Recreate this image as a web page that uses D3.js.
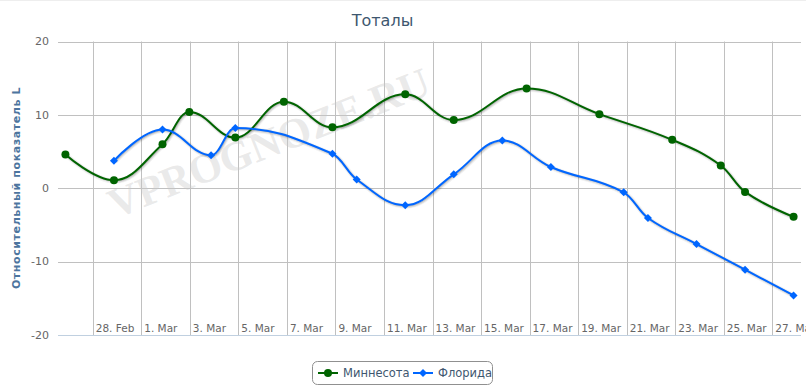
<!DOCTYPE html>
<html>
<head>
<meta charset="utf-8">
<script src="https://cdn.jsdelivr.net/npm/d3@7"></script>
<style>
    body { margin: 0; background: #fff; }
    #chart { width: 806px; height: 387px; overflow: hidden; }
    text { font-family: "DejaVu Sans", Verdana, Arial, sans-serif; }
</style>
</head>
<body>
<div id="chart"></div>
<script>
// Data (year 2012, times as plotted)
var minnesotaDates = [
    "2012-02-26 21:00", "2012-02-28 21:00", "2012-03-01 21:00", "2012-03-02 23:30",
    "2012-03-04 21:00", "2012-03-06 21:00", "2012-03-08 21:00", "2012-03-11 21:00",
    "2012-03-13 21:00", "2012-03-16 21:00", "2012-03-19 21:00", "2012-03-22 21:00",
    "2012-03-24 21:00", "2012-03-25 21:00", "2012-03-27 21:00"
];
var minnesotaValues = [4.6, 1.1, 6.0, 10.4, 6.9, 11.8, 8.3, 12.8, 9.3, 13.6, 10.1, 6.6, 3.1, -0.5, -3.9];

var floridaDates = [
    "2012-02-28 21:00", "2012-03-01 21:00", "2012-03-03 21:00", "2012-03-04 21:00",
    "2012-03-08 21:00", "2012-03-09 21:00", "2012-03-11 21:00", "2012-03-13 21:00",
    "2012-03-15 21:00", "2012-03-17 21:00", "2012-03-20 21:00", "2012-03-21 21:00",
    "2012-03-23 21:00", "2012-03-25 21:00", "2012-03-27 21:00"
];
var floridaValues = [3.75, 8.0, 4.5, 8.2, 4.7, 1.2, -2.3, 1.9, 6.5, 2.9, -0.55, -4.05, -7.6, -11.1, -14.6];

var yTicks = [-20, -10, 0, 10, 20];
var xDomain = ["2012-02-26 13:40", "2012-03-28 04:20"];
var xTickStart = "2012-02-28 00:00";
var xTickEnd = "2012-03-28 00:00";

var seriesNames = ["Миннесота", "Флорида"];
var seriesColors = ["#006400", "#0066FF"];

var parseTime = d3.timeParse("%Y-%m-%d %H:%M");
var formatTick = d3.timeFormat("%-d. %b");

// Highcharts-like spline (smoothing 1.5, no false extremes)
function SplineCurve(context) { this._context = context; }
SplineCurve.prototype = {
    areaStart: function () { this._line = 0; },
    areaEnd: function () { this._line = NaN; },
    lineStart: function () { this._pts = []; },
    point: function (x, y) { this._pts.push([+x, +y]); },
    lineEnd: function () {
        var p = this._pts, ctx = this._context, s = 1.5, den = s + 1;
        var cl = [], cr = [];
        for (var i = 0; i < p.length; i++) {
            if (i > 0 && i < p.length - 1) {
                var x = p[i][0], y = p[i][1];
                var lx = p[i - 1][0], ly = p[i - 1][1];
                var nx = p[i + 1][0], ny = p[i + 1][1];
                var lcx = (s * x + lx) / den, lcy = (s * y + ly) / den;
                var rcx = (s * x + nx) / den, rcy = (s * y + ny) / den;
                var corr = 0;
                if (rcx !== lcx) corr = ((rcy - lcy) * (rcx - x)) / (rcx - lcx) + y - rcy;
                lcy += corr; rcy += corr;
                if (lcy > ly && lcy > y) { lcy = Math.max(ly, y); rcy = 2 * y - lcy; }
                else if (lcy < ly && lcy < y) { lcy = Math.min(ly, y); rcy = 2 * y - lcy; }
                if (rcy > ny && rcy > y) { rcy = Math.max(ny, y); lcy = 2 * y - rcy; }
                else if (rcy < ny && rcy < y) { rcy = Math.min(ny, y); lcy = 2 * y - rcy; }
                cl[i] = [lcx, lcy]; cr[i] = [rcx, rcy];
            } else {
                cl[i] = p[i]; cr[i] = p[i];
            }
        }
        if (!p.length) return;
        ctx.moveTo(p[0][0], p[0][1]);
        for (var j = 1; j < p.length; j++) {
            ctx.bezierCurveTo(cr[j - 1][0], cr[j - 1][1], cl[j][0], cl[j][1], p[j][0], p[j][1]);
        }
    }
};
function splineCurve(context) { return new SplineCurve(context); }

// Chart dimensions
var width = 806, height = 387;
var plot = { left: 58, right: 801, top: 41.5, bottom: 335 };

var svg = d3.select("#chart").append("svg")
    .attr("width", width)
    .attr("height", height);

// light top border
svg.append("line")
    .attr("x1", 0).attr("x2", width)
    .attr("y1", 0.5).attr("y2", 0.5)
    .style("stroke", "#eeeeee");

var xScale = d3.scaleTime()
    .domain(xDomain.map(parseTime))
    .range([plot.left, plot.right]);

var yScale = d3.scaleLinear()
    .domain([-20, 20])
    .range([plot.bottom, plot.top]);

var xTicks = d3.timeDay.range(parseTime(xTickStart), parseTime(xTickEnd), 2);

// Horizontal grid
svg.append("g")
    .selectAll("line")
    .data(yTicks)
    .enter().append("line")
    .attr("x1", plot.left).attr("x2", plot.right)
    .attr("y1", d => Math.round(yScale(d)) + 0.5)
    .attr("y2", d => Math.round(yScale(d)) + 0.5)
    .style("stroke", "#C0C0C0");

// Vertical grid
svg.append("g")
    .selectAll("line")
    .data(xTicks)
    .enter().append("line")
    .attr("x1", d => Math.round(xScale(d)) + 0.5)
    .attr("x2", d => Math.round(xScale(d)) + 0.5)
    .attr("y1", plot.top).attr("y2", plot.bottom)
    .style("stroke", "#C0C0C0");

// Bottom axis line
svg.append("line")
    .attr("x1", plot.left).attr("x2", plot.right)
    .attr("y1", Math.round(yScale(-20)) + 0.5).attr("y2", Math.round(yScale(-20)) + 0.5)
    .style("stroke", "#C0D0E0");

// X tick labels (to the right of each grid line)
svg.append("g")
    .selectAll("text")
    .data(xTicks)
    .enter().append("text")
    .attr("x", d => xScale(d) + 3)
    .attr("y", 332)
    .style("font-size", "10.5px")
    .style("fill", "#666")
    .text(d => formatTick(d));

// Y tick labels
svg.append("g")
    .selectAll("text")
    .data(yTicks)
    .enter().append("text")
    .attr("x", 49)
    .attr("y", d => yScale(d))
    .attr("dy", "0.35em")
    .style("font-size", "11px")
    .style("fill", "#666")
    .style("text-anchor", "end")
    .text(d => d);

// Y axis title
svg.append("text")
    .attr("transform", "translate(20,188) rotate(-90)")
    .style("text-anchor", "middle")
    .style("font-size", "11px")
    .style("font-weight", "bold")
    .style("letter-spacing", "0.6px")
    .style("fill", "#4D759E")
    .text("Относительный показатель L");

// Chart title
svg.append("text")
    .attr("x", 382.5)
    .attr("y", 26)
    .style("text-anchor", "middle")
    .style("font-size", "16px")
    .style("fill", "#3E576F")
    .text("Тоталы");

// Watermark
svg.append("text")
    .attr("transform", "translate(274,156) rotate(-21.5)")
    .style("text-anchor", "middle")
    .style("font-family", "'Liberation Serif', 'DejaVu Serif', serif")
    .style("font-weight", "bold")
    .style("font-size", "42px")
    .style("fill", "#c8c8c8")
    .style("fill-opacity", 0.4)
    .text("VPROGNOZE.RU");

// Series
var series = [
    { name: seriesNames[0], color: seriesColors[0], symbol: "circle",
      data: minnesotaDates.map((d, i) => ({ date: parseTime(d), value: minnesotaValues[i] })) },
    { name: seriesNames[1], color: seriesColors[1], symbol: "diamond",
      data: floridaDates.map((d, i) => ({ date: parseTime(d), value: floridaValues[i] })) }
];

var line = d3.line()
    .x(d => xScale(d.date))
    .y(d => yScale(d.value))
    .curve(splineCurve);

var diamond = function (x, y, r) {
    return "M" + x + "," + (y - r) + "L" + (x + r) + "," + y + "L" + x + "," + (y + r) + "L" + (x - r) + "," + y + "Z";
};

series.forEach(function (s) {
    var g = svg.append("g");

    // soft shadow like the original
    [5, 3, 1].forEach(function (w, k) {
        g.append("path")
            .attr("d", line(s.data))
            .attr("transform", "translate(1,1)")
            .style("fill", "none")
            .style("stroke", "#000")
            .style("stroke-opacity", 0.05 * (k + 1))
            .style("stroke-width", w);
    });

    g.append("path")
        .attr("d", line(s.data))
        .style("fill", "none")
        .style("stroke", s.color)
        .style("stroke-width", 2);

    if (s.symbol === "circle") {
        g.selectAll("circle")
            .data(s.data)
            .enter().append("circle")
            .attr("cx", d => xScale(d.date))
            .attr("cy", d => yScale(d.value))
            .attr("r", 4)
            .style("fill", s.color);
    } else {
        g.selectAll(".pt")
            .data(s.data)
            .enter().append("path")
            .attr("class", "pt")
            .attr("d", d => diamond(xScale(d.date), yScale(d.value), 4))
            .style("fill", s.color);
    }
});

// Legend
var legend = svg.append("g");
legend.append("rect")
    .attr("x", 312.5).attr("y", 361.5)
    .attr("width", 180).attr("height", 23)
    .attr("rx", 5).attr("ry", 5)
    .style("fill", "#fff")
    .style("stroke", "#909090");

var legendX = [318, 413];
series.forEach(function (s, i) {
    var x0 = legendX[i], cy = 373;
    legend.append("line")
        .attr("x1", x0).attr("x2", x0 + 20)
        .attr("y1", cy).attr("y2", cy)
        .style("stroke", s.color)
        .style("stroke-width", 2);
    if (s.symbol === "circle") {
        legend.append("circle")
            .attr("cx", x0 + 10).attr("cy", cy).attr("r", 4)
            .style("fill", s.color);
    } else {
        legend.append("path")
            .attr("d", diamond(x0 + 10, cy, 4))
            .style("fill", s.color);
    }
    legend.append("text")
        .attr("x", x0 + 25)
        .attr("y", cy + 4)
        .style("font-size", "11.5px")
        .style("fill", "#3E576F")
        .text(s.name);
});
</script>
</body>
</html>
